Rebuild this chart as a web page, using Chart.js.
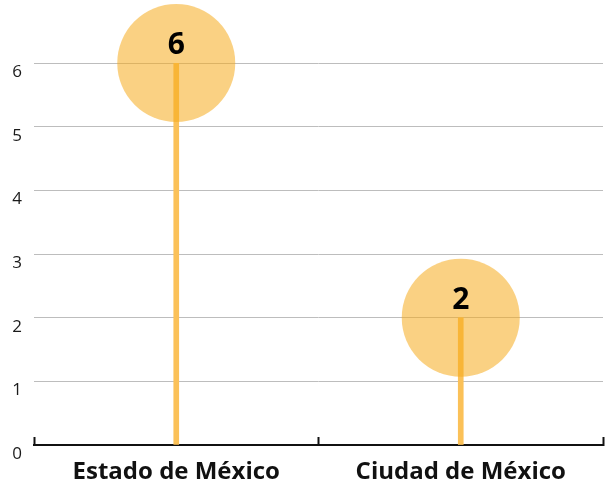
<!DOCTYPE html>
<html>
<head>
<meta charset="utf-8">
<script src="https://cdn.jsdelivr.net/npm/chart.js@4"></script>
<style>
  html, body { margin: 0; padding: 0; background: #fff; }
  #wrap { width: 608px; height: 487px; }
</style>
</head>
<body>
<div id="wrap"><canvas id="c"></canvas></div>
<script>
const categories = ['Estado de México', 'Ciudad de México'];
const values = [6, 2];
const yTicks = [0, 1, 2, 3, 4, 5, 6];

const FONT = '"Open Sans", "Noto Sans", sans-serif';

// value labels above each bubble centre
const valueLabels = {
  id: 'valueLabels',
  afterDatasetsDraw(chart) {
    const meta = chart.getDatasetMeta(1);
    const ctx = chart.ctx;
    ctx.save();
    ctx.font = 'bold 30px ' + FONT;
    ctx.fillStyle = '#000';
    ctx.textAlign = 'center';
    ctx.textBaseline = 'alphabetic';
    meta.data.forEach((pt, i) => {
      ctx.fillText(String(values[i]), pt.x, pt.y - 9);
    });
    ctx.restore();
  }
};

new Chart(document.getElementById('c'), {
  data: {
    labels: categories,
    datasets: [
      {
        type: 'bar',
        data: values,
        backgroundColor: '#FBC158',
        barThickness: 5,
        order: 2
      },
      {
        type: 'line',
        data: values,
        showLine: false,
        pointRadius: 59,
        pointHoverRadius: 59,
        pointBorderWidth: 0,
        pointBackgroundColor: 'rgba(246,172,30,0.55)',
        clip: false,
        order: 1
      }
    ]
  },
  options: {
    responsive: true,
    maintainAspectRatio: false,
    animation: false,
    events: [],
    layout: { autoPadding: false, padding: { top: 63, right: 5, left: 0, bottom: 0 } },
    plugins: {
      legend: { display: false },
      tooltip: { enabled: false }
    },
    scales: {
      x: {
        afterFit(scale) {
          scale.height = 42;
          scale.paddingLeft = 0;
          scale.paddingRight = 0;
        },
        grid: {
          offset: true,
          drawOnChartArea: false,
          drawTicks: true,
          tickLength: -8,
          tickWidth: 2,
          tickColor: '#111'
        },
        border: { display: true, color: '#111', width: 2 },
        ticks: {
          padding: 21,
          maxRotation: 0,
          autoSkip: false,
          color: '#111',
          font: { family: FONT, size: 24, weight: 'bold' }
        }
      },
      y: {
        min: 0,
        max: 6,
        afterBuildTicks(scale) {
          scale.ticks = yTicks.map(v => ({ value: v }));
        },
        afterFit(scale) { scale.width = 34; },
        grid: { color: '#bdbdbd', lineWidth: 1, drawTicks: false },
        border: { display: false },
        ticks: {
          padding: 12,
          labelOffset: 9,
          color: '#1a1a1a',
          font: { family: FONT, size: 17 }
        }
      }
    }
  },
  plugins: [valueLabels]
});
</script>
</body>
</html>
